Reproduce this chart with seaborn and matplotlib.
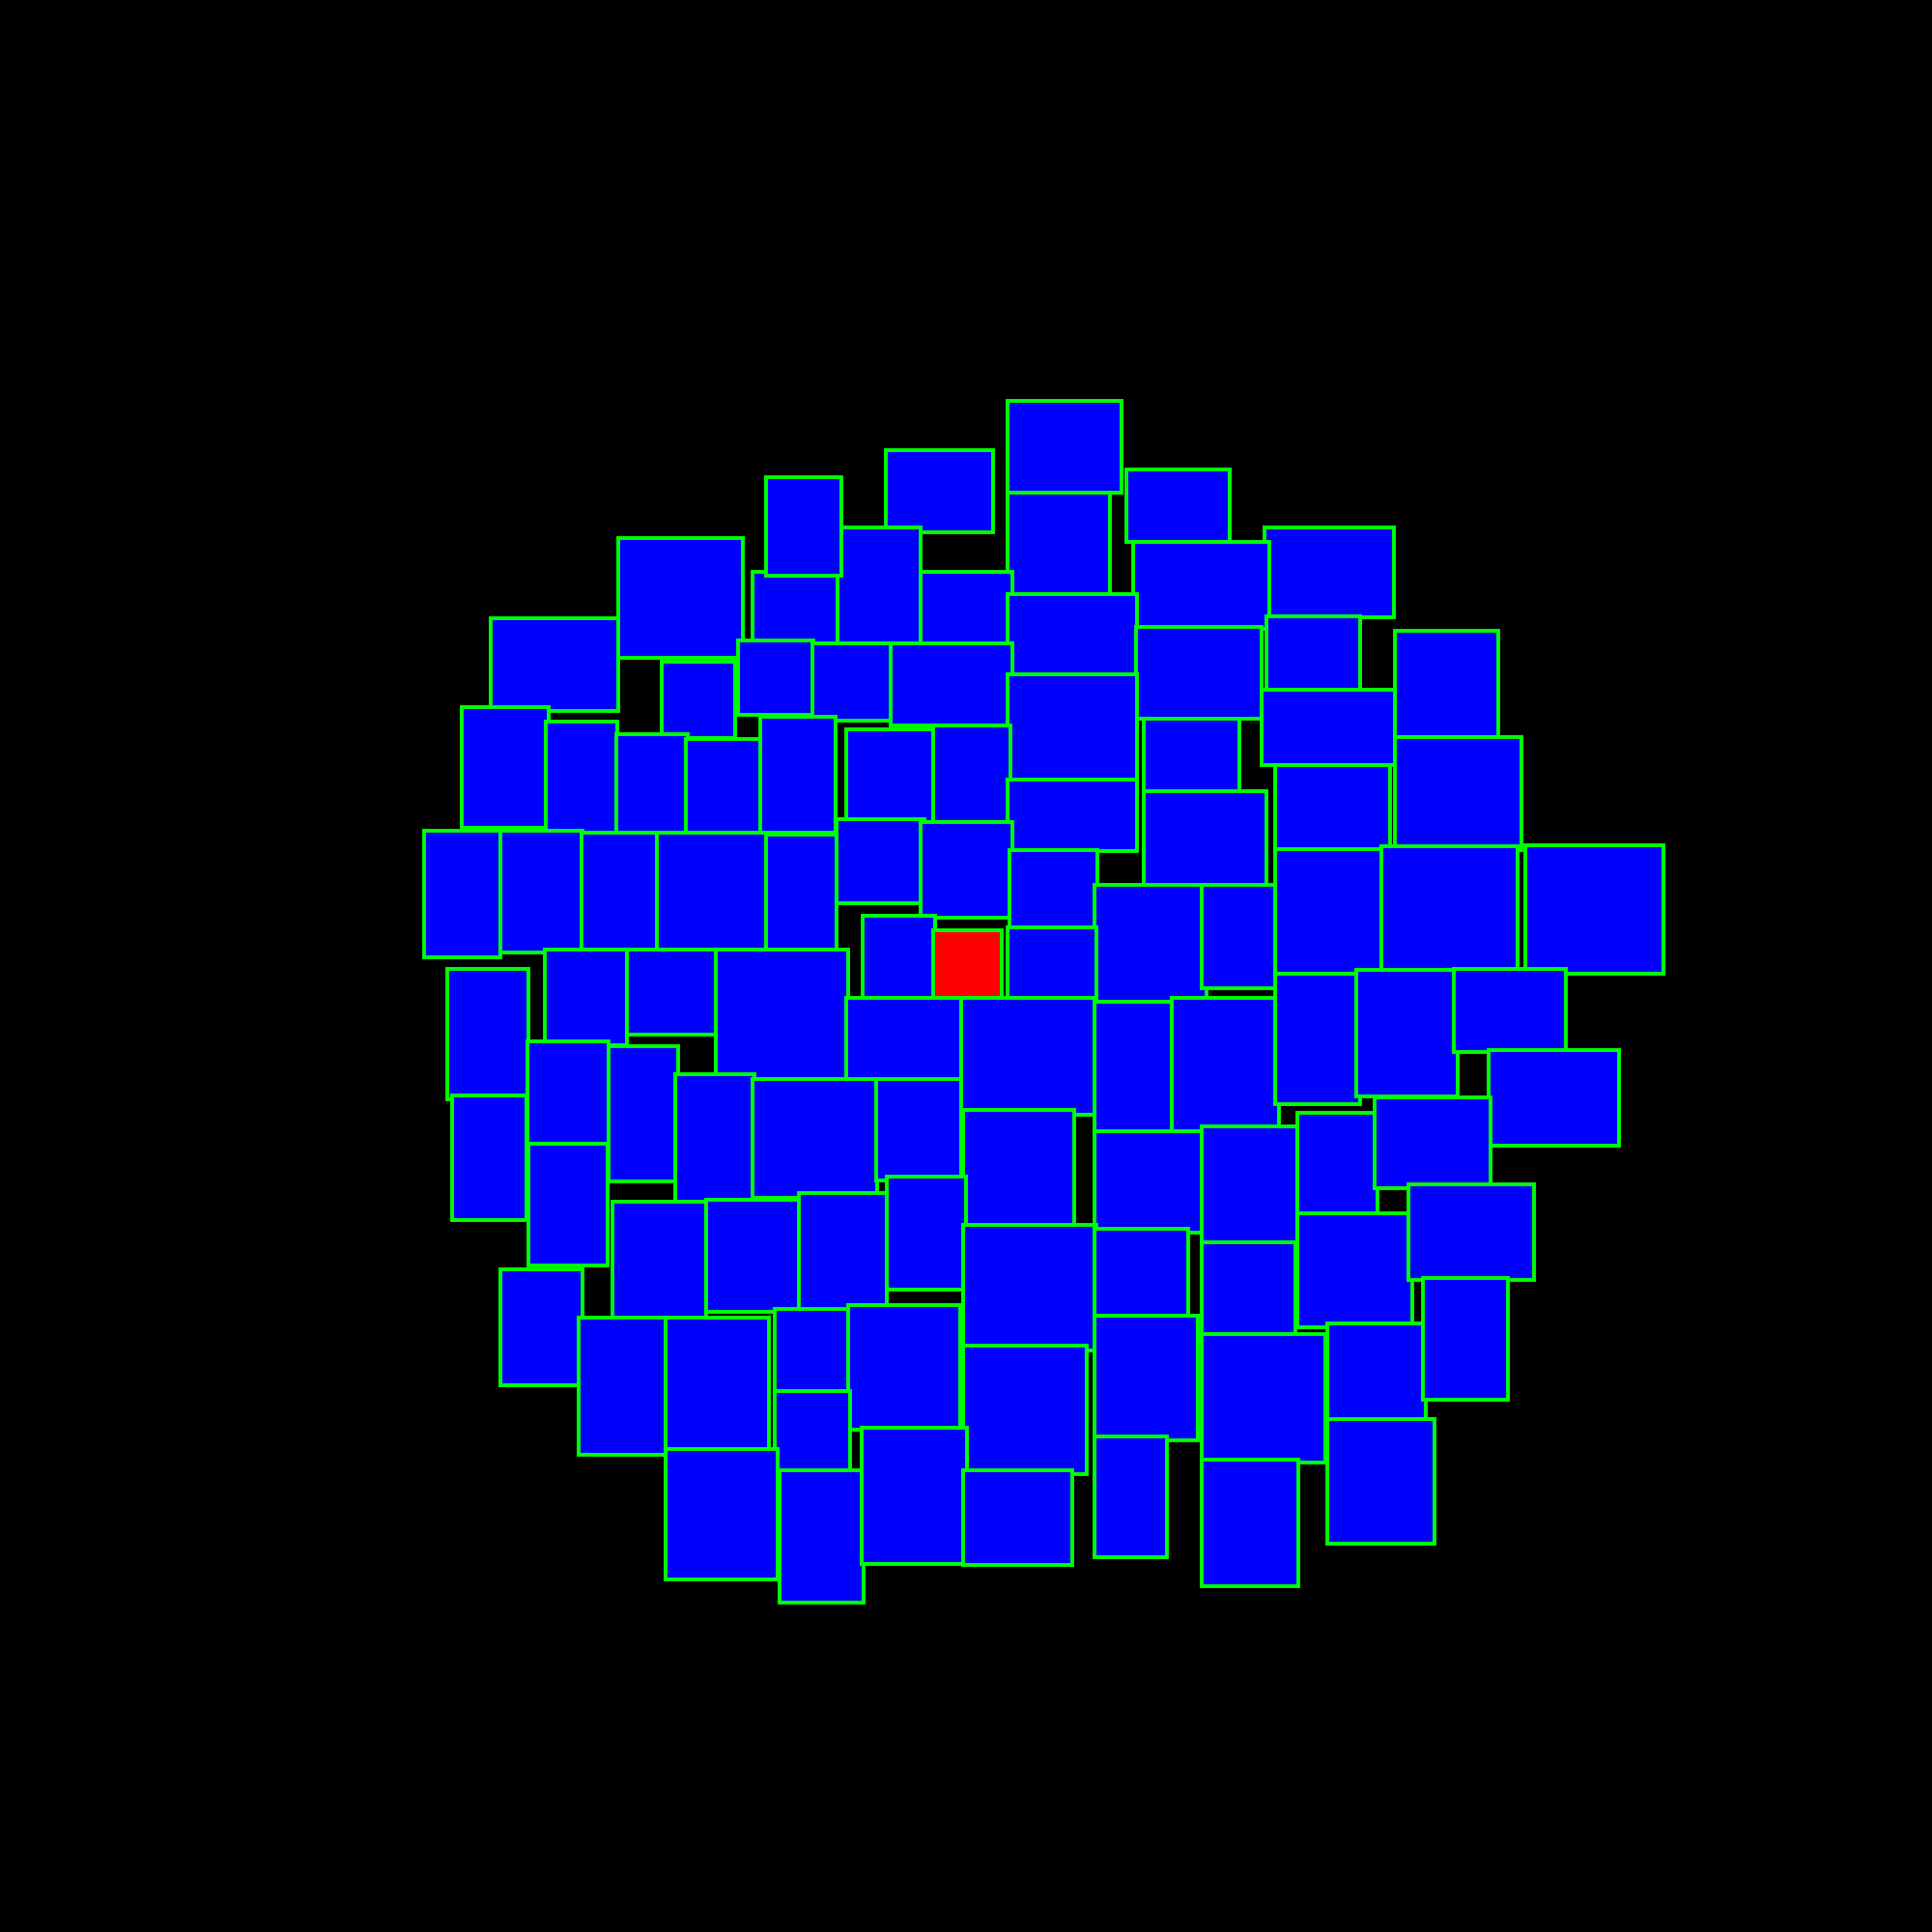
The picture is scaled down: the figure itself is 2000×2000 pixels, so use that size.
import matplotlib
matplotlib.use("Agg")
import matplotlib.pyplot as plt
from matplotlib.patches import Rectangle
import seaborn as sns

# Rectangle boxes: left, top, right, bottom (in a 1568-unit canvas, y downward)
x0 = [818, 719, 914, 680, 818, 502, 1026, 920, 611, 622, 747, 818, 922, 1028, 398, 1132,
      537, 599, 659, 723, 818, 1024, 375, 443, 500, 557, 617, 687, 757, 928, 818, 1132,
      1035, 928, 344, 406, 472, 533, 622, 679, 747, 819, 888, 975, 1035, 1121, 1238, 700,
      757, 818, 363, 442, 509, 581, 687, 780, 888, 951, 1035, 1101, 1180, 1208, 428, 494,
      367, 548, 611, 711, 782, 888, 975, 1053, 1116, 429, 497, 573, 648, 720, 782, 888,
      975, 1053, 1143, 406, 470, 540, 629, 688, 782, 888, 975, 1077, 1155, 629, 540, 633,
      699, 782, 888, 975, 1077]
y0 = [325, 365, 381, 428, 400, 437, 428, 440, 464, 387, 464, 482, 509, 500, 502, 512,
      537, 520, 522, 522, 547, 560, 574, 586, 596, 600, 582, 592, 589, 583, 633, 598,
      621, 642, 674, 674, 676, 676, 677, 665, 667, 690, 718, 718, 689, 687, 686, 743,
      755, 753, 786, 771, 771, 771, 810, 810, 813, 810, 790, 787, 786, 852, 845, 849,
      889, 872, 876, 876, 901, 918, 914, 903, 891, 928, 975, 974, 968, 955, 994, 997,
      1008, 985, 961, 1030, 1069, 1069, 1062, 1059, 1092, 1068, 1083, 1074, 1037, 1129, 1176, 1193,
      1159, 1193, 1166, 1185, 1152]
x1 = [910, 806, 998, 747, 901, 603, 1131, 1030, 680, 683, 822, 923, 1024, 1104, 502, 1216,
      597, 660, 724, 822, 923, 1132, 445, 501, 558, 618, 678, 759, 820, 1006, 923, 1235,
      1128, 1028, 406, 473, 534, 623, 679, 750, 822, 891, 979, 1036, 1122, 1232, 1350, 759,
      813, 890, 429, 509, 584, 688, 782, 890, 952, 1038, 1104, 1183, 1271, 1314, 494, 550,
      427, 612, 712, 780, 872, 978, 1053, 1118, 1210, 493, 573, 651, 720, 784, 890, 964,
      1051, 1146, 1245, 473, 541, 624, 690, 779, 882, 972, 1076, 1157, 1224, 690, 631, 701,
      785, 870, 947, 1054, 1164]
y1 = [400, 432, 440, 522, 484, 534, 501, 510, 522, 467, 523, 549, 583, 563, 577, 601,
      599, 580, 585, 589, 634, 621, 672, 676, 676, 676, 676, 667, 667, 645, 691, 690,
      690, 721, 777, 773, 771, 771, 773, 733, 745, 755, 813, 802, 790, 790, 790, 811,
      811, 813, 892, 848, 840, 876, 878, 905, 919, 918, 896, 890, 854, 930, 930, 959,
      990, 976, 972, 958, 996, 1000, 1010, 988, 964, 1027, 1074, 1065, 1063, 1047, 1096, 1071,
      1088, 1077, 1039, 1124, 1181, 1181, 1131, 1160, 1196, 1169, 1187, 1158, 1136, 1197, 1282, 1301,
      1269, 1270, 1264, 1287, 1253]
highlight = 48  # index of the red box

sns.set_theme(style="dark")
fig = plt.figure(figsize=(20, 20), dpi=100, facecolor="black")
ax = fig.add_axes([0, 0, 1, 1])
ax.set_facecolor("black")
ax.set_xlim(0, 1568)
ax.set_ylim(1568, 0)
ax.axis("off")

for i, (a, b, c, d) in enumerate(zip(x0, y0, x1, y1)):
    fc = "#ff0000" if i == highlight else "#0000ff"
    ax.add_patch(Rectangle((a, b), c - a, d - b, facecolor=fc,
                           edgecolor="#00ff00", linewidth=2.8, zorder=2 + i * 0.01))

fig.savefig("out.png", dpi=100, facecolor="black")
